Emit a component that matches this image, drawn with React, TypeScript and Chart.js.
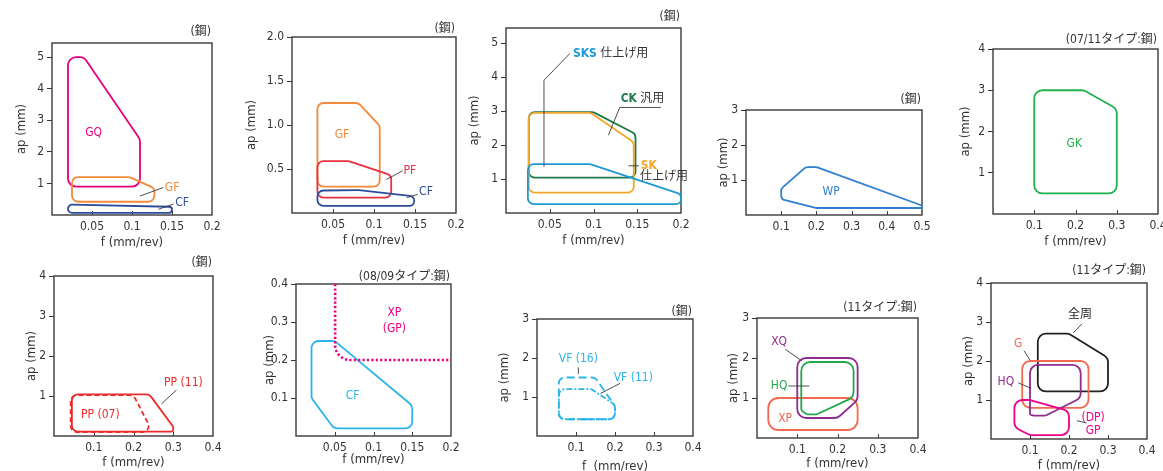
import React, { useEffect, useRef } from 'react';
import { Chart, registerables } from 'chart.js';

Chart.register(...registerables);

const FONT = '"Liberation Sans Narrow", "DejaVu Sans Condensed", "Noto Sans CJK JP", sans-serif';
const INK = '#333333';
const LEAD = '#3a3a3a';

const MAGENTA = '#e4007f';
const ORANGE = '#f28a3a';
const NAVY = '#2b4b9b';
const RED = '#e8303e';
const DKGREEN = '#1f7a4a';
const AMBER = '#f2a62a';
const SKY = '#1c9ad6';
const BLUE = '#2f7fd0';
const GREEN = '#22b04c';
const PPRED = '#ee2a2a';
const CYAN = '#2cb4ea';
const PURPLE = '#8e2c92';
const HQGREEN = '#22a84a';
const CORAL = '#f26a4f';
const BLACK = '#222222';
const PINK = '#ec008c';

type Pt = [number, number];

// ---------- Panel 1 (steel): GQ / GF / CF ----------
const p1XTicks = [0.05, 0.1, 0.15, 0.2];
const p1YTicks = [1, 2, 3, 4, 5];
const p1GQ: Pt[] = [[0.02, 0.9], [0.02, 5.0], [0.04, 5.0], [0.11, 2.4], [0.11, 0.9]];
const p1GF: Pt[] = [[0.025, 0.42], [0.025, 1.2], [0.097, 1.2], [0.128, 0.85], [0.128, 0.42]];
const p1CF: Pt[] = [[0.02, 0.07], [0.02, 0.33], [0.15, 0.26], [0.15, 0.07]];
const p1LeadGF: Pt[] = [[0.11, 0.6], [0.139, 0.87]];
const p1LeadCF: Pt[] = [[0.133, 0.18], [0.152, 0.35]];

// ---------- Panel 2 (steel): GF / PF / CF ----------
const p2XTicks = [0.05, 0.1, 0.15, 0.2];
const p2YTicks = [0.5, 1.0, 1.5, 2.0];
const p2YLabels = ['0.5', '1.0', '1.5', '2.0'];
const p2GF: Pt[] = [[0.031, 0.3], [0.031, 1.25], [0.081, 1.25], [0.107, 0.99], [0.107, 0.3]];
const p2PF: Pt[] = [[0.031, 0.175], [0.031, 0.59], [0.069, 0.59], [0.121, 0.43], [0.121, 0.175]];
const p2CF: Pt[] = [[0.031, 0.08], [0.031, 0.255], [0.081, 0.26], [0.149, 0.19], [0.149, 0.08]];
const p2LeadPF: Pt[] = [[0.115, 0.38], [0.135, 0.48]];
const p2LeadCF: Pt[] = [[0.14, 0.175], [0.153, 0.21]];

// ---------- Panel 3 (steel): CK / SK / SKS ----------
const p3XTicks = [0.05, 0.1, 0.15, 0.2];
const p3YTicks = [1, 2, 3, 4, 5];
const p3CK: Pt[] = [[0.026, 1.04], [0.026, 2.97], [0.1, 2.97], [0.148, 2.33], [0.148, 1.04]];
const p3SK: Pt[] = [[0.026, 0.6], [0.026, 2.95], [0.097, 2.95], [0.146, 2.08], [0.146, 0.6]];
const p3SKS: Pt[] = [[0.025, 0.26], [0.025, 1.44], [0.096, 1.44], [0.2, 0.55], [0.2, 0.26]];
const p3LeadSKS: Pt[] = [[0.0434, 1.36], [0.0434, 3.91], [0.073, 4.7]];
const p3LeadCK: Pt[] = [[0.117, 2.29], [0.13, 3.11], [0.177, 3.11]];
const p3LeadSK: Pt[] = [[0.14, 1.39], [0.152, 1.39]];

// ---------- Panel 4 (steel): WP ----------
const p4XTicks = [0.1, 0.2, 0.3, 0.4, 0.5];
const p4YTicks = [1, 2, 3];
const p4WP: Pt[] = [[0.1, 0.45], [0.1, 0.75], [0.17, 1.37], [0.2, 1.37], [0.5, 0.27], [0.5, 0.2], [0.2, 0.2]];

// ---------- Panel 5 (07/11 type): GK ----------
const p5XTicks = [0.1, 0.2, 0.3, 0.4];
const p5YTicks = [1, 2, 3, 4];
const p5GK: Pt[] = [[0.1, 0.5], [0.1, 3.0], [0.22, 3.0], [0.3, 2.55], [0.3, 0.5]];

// ---------- Panel 6 (steel): PP ----------
const p6XTicks = [0.1, 0.2, 0.3, 0.4];
const p6YTicks = [1, 2, 3, 4];
const p6PP11: Pt[] = [[0.045, 0.11], [0.045, 1.04], [0.24, 1.04], [0.3, 0.23], [0.3, 0.11]];
const p6PP07: Pt[] = [[0.042, 0.1], [0.042, 1.02], [0.2, 1.02], [0.248, 0.1]];
const p6LeadPP11: Pt[] = [[0.27, 0.8], [0.308, 1.15]];

// ---------- Panel 7 (08/09 type): CF / XP(GP) ----------
const p7XTicks = [0.05, 0.1, 0.15, 0.2];
const p7YTicks = [0.1, 0.2, 0.3, 0.4];
const p7CF: Pt[] = [[0.02, 0.1], [0.02, 0.25], [0.05, 0.25], [0.15, 0.08], [0.15, 0.02], [0.049, 0.02]];
const p7XP: Pt[] = [[0.0505, 0.4], [0.0505, 0.2], [0.2, 0.2]];

// ---------- Panel 8 (steel): VF ----------
const p8XTicks = [0.1, 0.2, 0.3, 0.4];
const p8YTicks = [1, 2, 3];
const p8VF16: Pt[] = [[0.056, 0.43], [0.056, 1.5], [0.149, 1.5], [0.2, 0.77], [0.2, 0.43]];
const p8VF11: Pt[] = [[0.056, 0.43], [0.056, 1.2], [0.14, 1.2], [0.2, 0.8], [0.2, 0.43]];
const p8LeadVF16: Pt[] = [[0.106, 1.76], [0.106, 1.59]];
const p8LeadVF11: Pt[] = [[0.163, 1.09], [0.213, 1.35]];

// ---------- Panel 9 (11 type): XQ / HQ / XP ----------
const p9XTicks = [0.1, 0.2, 0.3, 0.4];
const p9YTicks = [1, 2, 3];
const p9XP: Pt[] = [[0.028, 0.2], [0.028, 1.0], [0.25, 1.0], [0.25, 0.2]];
const p9XQ: Pt[] = [[0.1, 0.5], [0.1, 2.0], [0.25, 2.0], [0.25, 0.95], [0.2, 0.5]];
const p9HQ: Pt[] = [[0.11, 0.68], [0.11, 1.9], [0.24, 1.9], [0.24, 1.02], [0.148, 0.59], [0.125, 0.59]];
const p9LeadXQ: Pt[] = [[0.07, 2.22], [0.111, 1.93]];
const p9LeadHQ: Pt[] = [[0.078, 1.3], [0.13, 1.3]];

// ---------- Panel 10 (11 type): 全周 / G / HQ / GP ----------
const p10XTicks = [0.1, 0.2, 0.3, 0.4];
const p10YTicks = [1, 2, 3, 4];
const p10ALL: Pt[] = [[0.12, 1.22], [0.12, 2.7], [0.2, 2.7], [0.3, 2.08], [0.3, 1.22]];
const p10G: Pt[] = [[0.08, 0.8], [0.08, 2.0], [0.25, 2.0], [0.25, 0.8]];
const p10HQ: Pt[] = [[0.1, 0.62], [0.1, 1.9], [0.23, 1.9], [0.23, 1.05], [0.14, 0.6], [0.11, 0.6]];
const p10GP: Pt[] = [[0.06, 0.3], [0.06, 1.0], [0.1, 1.0], [0.2, 0.72], [0.2, 0.1], [0.1, 0.1]];
const p10LeadALL: Pt[] = [[0.211, 2.72], [0.233, 2.95]];
const p10LeadG: Pt[] = [[0.085, 2.26], [0.1, 2.02]];
const p10LeadHQ: Pt[] = [[0.07, 1.44], [0.1, 1.31]];
const p10LeadGP: Pt[] = [[0.22, 0.47], [0.245, 0.41]];

interface Series { pts: Pt[]; color: string; width?: number; closed?: boolean; radius?: number; dash?: number[]; cap?: CanvasLineCap }
interface Part { t: string; c: string; b?: boolean }
interface Label { parts: Part[]; f: number; ap: number; align?: 'left' | 'center' }
interface PanelDef {
  rect: [number, number, number, number];
  xMax: number; yMax: number;
  xTicks: number[]; yTicks: number[]; yLabels?: string[];
  series: Series[]; labels: Label[];
  title: string; titleOff?: number; yTitleOff: number; xTitle?: string; xTitleOff?: number;
}

const shape = (pts: Pt[], color: string, extra: Partial<Series> = {}): Series => ({ pts, color, width: 1.8, closed: true, radius: 6, ...extra });
const lead = (pts: Pt[]): Series => ({ pts, color: LEAD, width: 0.9, closed: false, radius: 0 });
const lab = (text: string, color: string, f: number, ap: number, align: 'left' | 'center' = 'center', b = false): Label => ({ parts: [{ t: text, c: color, b }], f, ap, align });

const panels: PanelDef[] = [
  {
    rect: [52, 43, 212, 215], xMax: 0.2, yMax: 5.45, xTicks: p1XTicks, yTicks: p1YTicks,
    series: [shape(p1GQ, MAGENTA, { radius: 8 }), shape(p1GF, ORANGE), shape(p1CF, NAVY, { radius: 4 }), lead(p1LeadGF), lead(p1LeadCF)],
    labels: [lab('GQ', MAGENTA, 0.052, 2.6), lab('GF', ORANGE, 0.141, 0.86, 'left'), lab('CF', NAVY, 0.154, 0.38, 'left')],
    title: '(鋼)', titleOff: 11, yTitleOff: 30, xTitle: 'f (mm/rev)', xTitleOff: 28,
  },
  {
    rect: [292, 37, 456, 213], xMax: 0.2, yMax: 2, xTicks: p2XTicks, yTicks: p2YTicks, yLabels: p2YLabels,
    series: [shape(p2GF, ORANGE), shape(p2PF, RED), shape(p2CF, NAVY), lead(p2LeadPF), lead(p2LeadCF)],
    labels: [lab('GF', ORANGE, 0.061, 0.89), lab('PF', RED, 0.136, 0.48, 'left'), lab('CF', NAVY, 0.155, 0.24, 'left')],
    title: '(鋼)', titleOff: 8, yTitleOff: 40, xTitle: 'f (mm/rev)', xTitleOff: 28,
  },
  {
    rect: [506, 28, 681, 213], xMax: 0.2, yMax: 5.45, xTicks: p3XTicks, yTicks: p3YTicks,
    series: [shape(p3CK, DKGREEN), shape(p3SK, AMBER), shape(p3SKS, SKY), lead(p3LeadSKS), lead(p3LeadCK), lead(p3LeadSK)],
    labels: [
      { parts: [{ t: 'SKS', c: SKY, b: true }, { t: ' 仕上げ用', c: INK }], f: 0.0765, ap: 4.7, align: 'left' },
      { parts: [{ t: 'CK', c: DKGREEN, b: true }, { t: ' 汎用', c: INK }], f: 0.131, ap: 3.35, align: 'left' },
      { parts: [{ t: 'SK', c: AMBER, b: true }], f: 0.154, ap: 1.39, align: 'left' },
      { parts: [{ t: '仕上げ用', c: INK }], f: 0.153, ap: 1.06, align: 'left' },
    ],
    title: '(鋼)', titleOff: 11, yTitleOff: 31, xTitle: 'f (mm/rev)', xTitleOff: 28,
  },
  {
    rect: [746, 110, 922, 215], xMax: 0.5, yMax: 3, xTicks: p4XTicks, yTicks: p4YTicks,
    series: [shape(p4WP, BLUE)],
    labels: [lab('WP', BLUE, 0.242, 0.67)],
    title: '(鋼)', titleOff: 10, yTitleOff: 22,
  },
  {
    rect: [993, 49, 1158, 214], xMax: 0.4, yMax: 4, xTicks: p5XTicks, yTicks: p5YTicks,
    series: [shape(p5GK, GREEN, { radius: 8 })],
    labels: [lab('GK', GREEN, 0.197, 1.71)],
    title: '(07/11タイプ:鋼)', titleOff: 9, yTitleOff: 27, xTitle: 'f (mm/rev)', xTitleOff: 28,
  },
  {
    rect: [54, 276, 213, 436], xMax: 0.4, yMax: 4, xTicks: p6XTicks, yTicks: p6YTicks,
    series: [shape(p6PP07, PPRED, { dash: [5, 3] }), shape(p6PP11, PPRED), lead(p6LeadPP11)],
    labels: [lab('PP (11)', PPRED, 0.277, 1.33, 'left'), lab('PP (07)', PPRED, 0.068, 0.54, 'left')],
    title: '(鋼)', titleOff: 13, yTitleOff: 22, xTitle: 'f (mm/rev)', xTitleOff: 27,
  },
  {
    rect: [296, 284, 451, 436], xMax: 0.2, yMax: 0.4, xTicks: p7XTicks, yTicks: p7YTicks,
    series: [shape(p7CF, CYAN, { radius: 7 }), { pts: p7XP, color: MAGENTA, width: 2.6, closed: false, radius: 15, dash: [2.2, 2.2] }],
    labels: [lab('XP', MAGENTA, 0.127, 0.323), lab('(GP)', MAGENTA, 0.127, 0.283), lab('CF', CYAN, 0.073, 0.106)],
    title: '(08/09タイプ:鋼)', titleOff: 7, yTitleOff: 26, xTitle: 'f (mm/rev)', xTitleOff: 24,
  },
  {
    rect: [537, 319, 693, 436], xMax: 0.4, yMax: 3, xTicks: p8XTicks, yTicks: p8YTicks,
    series: [shape(p8VF16, CYAN, { dash: [8, 4] }), shape(p8VF11, CYAN, { dash: [6, 2, 2, 2] }), lead(p8LeadVF16), lead(p8LeadVF11)],
    labels: [lab('VF (16)', CYAN, 0.106, 1.97), lab('VF (11)', CYAN, 0.247, 1.48)],
    title: '(鋼)', titleOff: 7, yTitleOff: 32, xTitle: 'f  (mm/rev)', xTitleOff: 31,
  },
  {
    rect: [757, 318, 918, 438], xMax: 0.4, yMax: 3, xTicks: p9XTicks, yTicks: p9YTicks,
    series: [shape(p9XP, CORAL, { radius: 10 }), shape(p9XQ, PURPLE, { radius: 9 }), shape(p9HQ, HQGREEN, { radius: 9 }), lead(p9LeadXQ), lead(p9LeadHQ)],
    labels: [lab('XQ', PURPLE, 0.055, 2.41), lab('HQ', HQGREEN, 0.055, 1.3), lab('XP', CORAL, 0.07, 0.49)],
    title: '(11タイプ:鋼)', titleOff: 10, yTitleOff: 23, xTitle: 'f (mm/rev)', xTitleOff: 26,
  },
  {
    rect: [991, 283, 1147, 439], xMax: 0.4, yMax: 4, xTicks: p10XTicks, yTicks: p10YTicks,
    series: [shape(p10ALL, BLACK, { radius: 8 }), shape(p10G, CORAL, { radius: 8 }), shape(p10HQ, PURPLE, { radius: 8 }), shape(p10GP, PINK, { radius: 8 }),
      lead(p10LeadALL), lead(p10LeadG), lead(p10LeadHQ), lead(p10LeadGP)],
    labels: [lab('全周', BLACK, 0.228, 3.19), lab('G', CORAL, 0.07, 2.45), lab('HQ', PURPLE, 0.038, 1.47), lab('(DP)', PINK, 0.262, 0.54), lab('GP', PINK, 0.262, 0.215)],
    title: '(11タイプ:鋼)', titleOff: 12, yTitleOff: 22, xTitle: 'f (mm/rev)', xTitleOff: 27,
  },
];

const ML = 62, MT = 30, MR = 22, MB = 36;

function roundedPath(ctx: CanvasRenderingContext2D, pts: { x: number; y: number }[], r: number, closed: boolean) {
  const n = pts.length;
  const d = (a: { x: number; y: number }, b: { x: number; y: number }) => Math.hypot(a.x - b.x, a.y - b.y);
  ctx.beginPath();
  if (closed) {
    const a = pts[n - 1], b = pts[0];
    ctx.moveTo((a.x + b.x) / 2, (a.y + b.y) / 2);
    for (let i = 0; i < n; i++) {
      const prev = pts[(i - 1 + n) % n], cur = pts[i], next = pts[(i + 1) % n];
      const rr = Math.min(r, d(prev, cur) / 2, d(cur, next) / 2);
      ctx.arcTo(cur.x, cur.y, next.x, next.y, rr);
    }
    ctx.closePath();
  } else {
    ctx.moveTo(pts[0].x, pts[0].y);
    for (let i = 1; i < n - 1; i++) {
      const prev = pts[i - 1], cur = pts[i], next = pts[i + 1];
      const rr = Math.min(r, d(prev, cur), d(cur, next));
      ctx.arcTo(cur.x, cur.y, next.x, next.y, rr);
    }
    ctx.lineTo(pts[n - 1].x, pts[n - 1].y);
  }
}

const font = (b?: boolean, size = 12) => `${b ? 'bold ' : ''}${size}px ${FONT}`;

function makePlugin(p: PanelDef) {
  return {
    id: 'panelDraw',
    beforeDatasetsDraw(chart: any) {
      const { ctx, chartArea: ca } = chart;
      const xs = chart.scales.x;
      ctx.save();
      ctx.strokeStyle = '#3a3a3a';
      ctx.lineWidth = 1.4;
      ctx.strokeRect(ca.left, ca.top, ca.right - ca.left, ca.bottom - ca.top);
      ctx.lineWidth = 1;
      ctx.beginPath();
      p.xTicks.forEach((v) => {
        const x = Math.round(xs.getPixelForValue(v)) + 0.5;
        if (x < ca.right - 2) {
          ctx.moveTo(x, ca.bottom);
          ctx.lineTo(x, ca.bottom - 4);
        }
      });
      ctx.stroke();
      ctx.restore();
    },
    afterDatasetsDraw(chart: any) {
      const { ctx, chartArea: ca } = chart;
      const xs = chart.scales.x, ys = chart.scales.y;
      ctx.save();
      p.series.forEach((s, i) => {
        const meta = chart.getDatasetMeta(i);
        const pts = meta.data.map((e: any) => ({ x: e.x, y: e.y }));
        ctx.strokeStyle = s.color;
        ctx.lineWidth = s.width ?? 1.8;
        ctx.lineJoin = 'round';
        ctx.lineCap = s.cap ?? 'butt';
        ctx.setLineDash(s.dash ?? []);
        roundedPath(ctx, pts, s.radius ?? 0, !!s.closed);
        ctx.stroke();
      });
      ctx.setLineDash([]);
      ctx.textBaseline = 'middle';
      p.labels.forEach((l) => {
        const px = xs.getPixelForValue(l.f), py = ys.getPixelForValue(l.ap);
        let total = 0;
        l.parts.forEach((pt) => { ctx.font = font(pt.b); total += ctx.measureText(pt.t).width; });
        let x = l.align === 'left' ? px : px - total / 2;
        ctx.textAlign = 'left';
        l.parts.forEach((pt) => {
          ctx.font = font(pt.b);
          ctx.fillStyle = pt.c;
          ctx.fillText(pt.t, x, py);
          x += ctx.measureText(pt.t).width;
        });
      });
      ctx.fillStyle = INK;
      ctx.font = font(false, 12);
      ctx.textAlign = 'right';
      ctx.fillText(p.title, ca.right - 1, ca.top - (p.titleOff ?? 10));
      ctx.textAlign = 'center';
      ctx.font = font(false, 13);
      if (p.xTitle) ctx.fillText(p.xTitle, (ca.left + ca.right) / 2, ca.bottom + (p.xTitleOff ?? 27));
      ctx.translate(ca.left - p.yTitleOff, (ca.top + ca.bottom) / 2);
      ctx.rotate(-Math.PI / 2);
      ctx.fillText('ap (mm)', 0, 0);
      ctx.restore();
    },
  };
}

function Panel({ p }: { p: PanelDef }) {
  const ref = useRef<HTMLCanvasElement>(null);
  const [l, t, r, b] = p.rect;
  const W = r - l + ML + MR;
  const H = b - t + MT + MB;
  useEffect(() => {
    const chart = new Chart(ref.current as HTMLCanvasElement, {
      type: 'scatter',
      data: {
        datasets: p.series.map((s) => ({
          data: s.pts.map(([x, y]) => ({ x, y })),
          pointRadius: 0,
          pointHoverRadius: 0,
          showLine: false,
          borderColor: s.color,
        })),
      },
      options: {
        animation: false,
        responsive: false,
        devicePixelRatio: 1,
        events: [],
        layout: { padding: { left: 0, top: MT, right: MR, bottom: 0 } },
        plugins: { legend: { display: false }, tooltip: { enabled: false } },
        scales: {
          x: {
            type: 'linear', min: 0, max: p.xMax,
            afterFit: (a: any) => { a.height = MB; },
            afterBuildTicks: (a: any) => { a.ticks = p.xTicks.map((v) => ({ value: v })); },
            ticks: { callback: (v: any) => String(v), font: { family: FONT, size: 12 }, color: INK, padding: 5, maxRotation: 0, autoSkip: false },
            grid: { display: false, drawTicks: false },
            border: { display: false },
          },
          y: {
            type: 'linear', min: 0, max: p.yMax,
            afterFit: (a: any) => { a.width = ML; },
            afterBuildTicks: (a: any) => { a.ticks = p.yTicks.map((v) => ({ value: v })); },
            ticks: {
              callback: (v: any, i: number) => (p.yLabels ? p.yLabels[i] : String(v)),
              font: { family: FONT, size: 12 }, color: INK, padding: 3, autoSkip: false,
            },
            grid: { display: true, drawOnChartArea: false, drawTicks: true, tickLength: 5, color: INK, lineWidth: 1 },
            border: { display: false },
          },
        },
      } as any,
      plugins: [makePlugin(p)],
    });
    return () => chart.destroy();
  }, []);
  return (
    <canvas
      ref={ref}
      width={W}
      height={H}
      style={{ position: 'absolute', left: l - ML, top: t - MT, width: W, height: H }}
    />
  );
}

export default function App() {
  return (
    <div style={{ position: 'absolute', left: 0, top: 0, width: 1163, height: 471, overflow: 'hidden', background: '#ffffff' }}>
      {panels.map((p, i) => (
        <Panel key={i} p={p} />
      ))}
    </div>
  );
}
